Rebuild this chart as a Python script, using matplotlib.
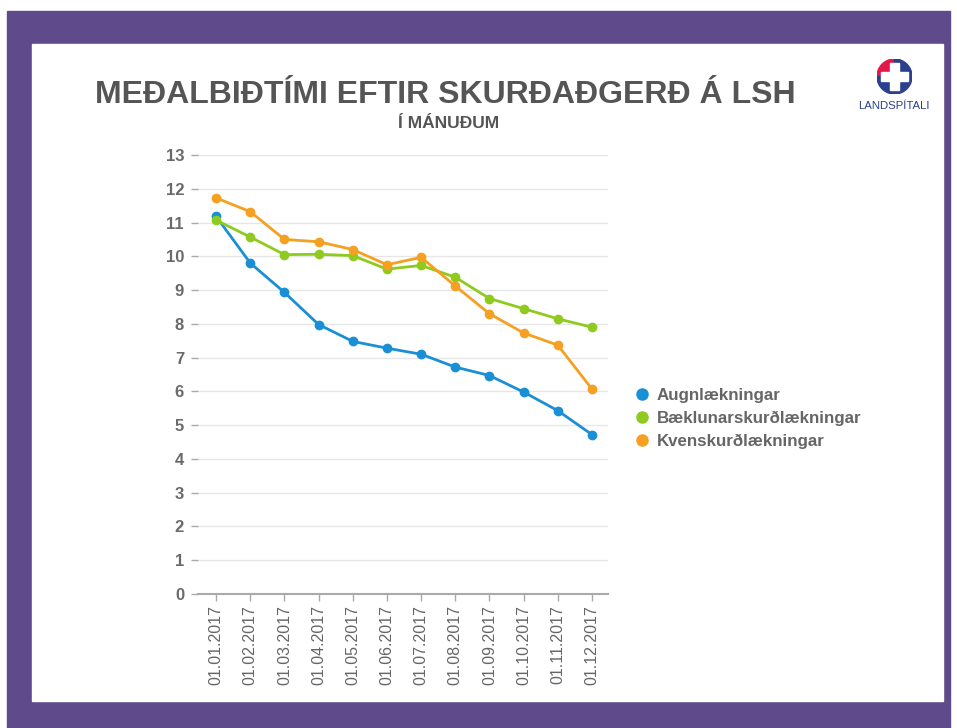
import matplotlib.pyplot as plt
import matplotlib.patches as mpatches
import numpy as np

months = ['01.01.2017', '01.02.2017', '01.03.2017', '01.04.2017', '01.05.2017', '01.06.2017',
          '01.07.2017', '01.08.2017', '01.09.2017', '01.10.2017', '01.11.2017', '01.12.2017']
augn = [11.18, 9.8, 8.93, 7.98, 7.48, 7.28, 7.1, 6.72, 6.47, 5.98, 5.43, 4.72]
baekl = [11.07, 10.57, 10.05, 10.06, 10.02, 9.62, 9.73, 9.38, 8.75, 8.45, 8.15, 7.9]
kvensk = [11.73, 11.32, 10.5, 10.43, 10.2, 9.75, 9.97, 9.12, 8.3, 7.73, 7.37, 6.07]

series = [('Augnlækningar', augn, '#1a8fd6'),
          ('Bæklunarskurðlækningar', baekl, '#8fcb1e'),
          ('Kvenskurðlækningar', kvensk, '#f5a020')]

plt.rcParams['font.family'] = ['Liberation Sans', 'DejaVu Sans']

W, H = 957, 728
fig = plt.figure(figsize=(W / 100, H / 100), dpi=100)
fig.patch.set_facecolor('white')

# purple frame around the slide
purple = '#5f4b8b'
fig.patches.append(mpatches.Rectangle((7 / W, 0), (950 - 7) / W, (728 - 11) / H,
                                      transform=fig.transFigure, color=purple, zorder=-10))
fig.patches.append(mpatches.Rectangle((32 / W, (728 - 701) / H), (943 - 32) / W, (701 - 44) / H,
                                      transform=fig.transFigure, color='white', zorder=-9))

# plot area
ax = fig.add_axes([198 / W, (728 - 594) / H, (608 - 198) / W, (594 - 155) / H])
ax.set_facecolor('none')
x = np.arange(len(months))
for name, vals, col in series:
    ax.plot(x, vals, color=col, lw=2, marker='o', ms=6, label=name, zorder=3, clip_on=False)

ax.set_xlim(-0.53, 11.47)
ax.set_ylim(0, 13)
ax.set_yticks(range(0, 14))
ax.set_xticks(x)
ax.set_xticklabels(months, rotation=90, fontsize=11.5, color='#666666')
for t in ax.get_yticklabels():
    t.set_fontweight('bold')
ax.tick_params(axis='y', length=5, width=1, color='#aaaaaa', labelsize=12,
               labelcolor='#6a6a6a', pad=5)
ax.tick_params(axis='x', length=5, width=1, color='#aaaaaa', pad=3)
ax.grid(axis='y', color='#e6e6e6', lw=1)
ax.set_axisbelow(True)
for s in ['top', 'right', 'left']:
    ax.spines[s].set_visible(False)
ax.spines['bottom'].set_color('#aaaaaa')
ax.spines['bottom'].set_linewidth(1.5)

# legend
leg = fig.legend(handles=[plt.Line2D([], [], ls='', marker='o', ms=8, color=c) for _, _, c in series],
                 labels=[n for n, _, _ in series], loc='upper left',
                 bbox_to_anchor=(621 / W, (728 - 373) / H), frameon=False,
                 handlelength=0.7, handletextpad=0.5, labelspacing=0.45,
                 prop={'size': 12.2, 'weight': 'bold'})
for t in leg.get_texts():
    t.set_color('#666666')

# titles
fig.text(445 / W, (728 - 95) / H, 'MEÐALBIÐTÍMI EFTIR SKURÐAÐGERÐ Á LSH', ha='center', va='center',
         fontsize=23, fontweight='bold', color='#555555')
fig.text(449 / W, (728 - 124) / H, 'Í MÁNUÐUM', ha='center', va='center',
         fontsize=12.5, fontweight='bold', color='#555555')

# logo
lax = fig.add_axes([877 / W, (728 - 94) / H, 35 / W, 35 / H])
lax.set_xlim(-1, 1)
lax.set_ylim(-1, 1)
lax.set_aspect('equal')
lax.axis('off')
lax.add_patch(mpatches.Wedge((0, 0), 1, 90, 180, color='#e4174a'))
lax.add_patch(mpatches.Wedge((0, 0), 1, 180, 90, color='#2a3f8f'))
lax.add_patch(mpatches.Rectangle((-0.25, -0.78), 0.5, 1.56, color='white'))
lax.add_patch(mpatches.Rectangle((-0.78, -0.25), 1.56, 0.5, color='white'))
fig.text(894 / W, (728 - 106) / H, 'LANDSPÍTALI', ha='center', va='center', fontsize=8.2,
         color='#2a3f8f')

fig.savefig('out.png', dpi=100)
